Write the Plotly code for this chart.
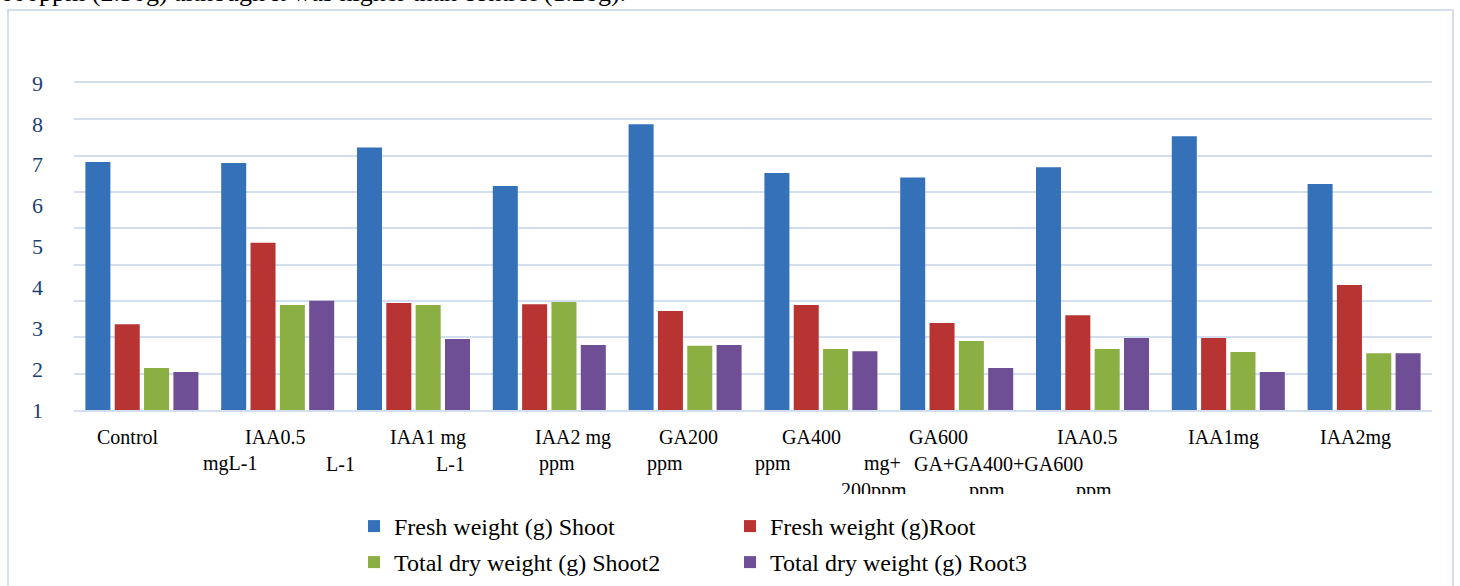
import plotly.graph_objects as go

# ---------------- data ----------------
categories = ["Control", "IAA0.5 mgL-1", "IAA1 mg L-1", "IAA2 mg L-1", "GA200 ppm",
              "GA400 ppm", "GA600 ppm", "IAA0.5 mg+ GA 200ppm", "IAA1mg+GA400 ppm",
              "IAA2mg+GA600 ppm"]
fresh_shoot = [7.07, 7.04, 7.42, 6.48, 7.99, 6.80, 6.69, 6.94, 7.70, 6.53]
fresh_root = [3.10, 5.09, 3.62, 3.59, 3.42, 3.57, 3.13, 3.32, 2.76, 4.06]
dry_shoot = [2.03, 3.57, 3.57, 3.64, 2.57, 2.49, 2.69, 2.49, 2.42, 2.39]
dry_root = [1.93, 3.67, 2.74, 2.59, 2.59, 2.44, 2.03, 2.76, 1.93, 2.39]
series_names = ["Fresh weight (g) Shoot", "Fresh weight (g)Root",
                "Total dry weight (g) Shoot2", "Total dry weight (g) Root3"]
y_tick_values = [1, 2, 3, 4, 5, 6, 7, 8, 9]
y_tick_labels = ["1", "2", "3", "4", "5", "6", "7", "8", "9"]

# category labels as they appear (wrapped text, three rows)
label_row1 = ["Control", "IAA0.5", "IAA1 mg", "IAA2 mg", "GA200", "GA400", "GA600",
              "IAA0.5", "IAA1mg", "IAA2mg"]
label_row2 = ["mgL-1", "L-1", "L-1", "ppm", "ppm", "ppm", "mg+", "GA+GA400+GA600"]
label_row3 = ["200ppm", "ppm", "ppm"]
header_text = "600ppm (2.30g) although it was higher than control (1.28g)."

# ---------------- style / layout ----------------
W, H = 1460, 586
L, R, T, B = 74, 28, 83, 176
PW, PH = W - L - R, H - T - B

def px(x):
    return (x - L) / PW

def py(y):
    return (H - B - y) / PH

row1_x = [128, 275, 428, 573, 688, 811, 938, 1087, 1223, 1355]
row2_x = [230, 340, 450, 557, 665, 773, 882, 998]
row3_x = [874, 987, 1094]

colors = ["#3471B9", "#B83433", "#8BAF42", "#6E4E95"]
legend_ids = ["legend", "legend", "legend2", "legend2"]
serif = "Liberation Serif, Times New Roman, serif"
grid_col = "#D3DEEF"

fig = go.Figure()
for name, vals, col, lg in zip(series_names, [fresh_shoot, fresh_root, dry_shoot, dry_root],
                               colors, legend_ids):
    fig.add_trace(go.Bar(x=categories, y=vals, name=name, legend=lg,
                         marker=dict(color=col, line=dict(width=0))))

annotations = []
for txt, x in zip(label_row1, row1_x):
    annotations.append(dict(text=txt, x=px(x), y=py(437), xref="paper", yref="paper",
                            xanchor="center", yanchor="middle", showarrow=False,
                            font=dict(family=serif, size=20, color="black")))
for txt, x in zip(label_row2, row2_x):
    annotations.append(dict(text=txt, x=px(x), y=py(464), xref="paper", yref="paper",
                            xanchor="center", yanchor="middle", showarrow=False,
                            font=dict(family=serif, size=20, color="black")))
for txt, x in zip(label_row3, row3_x):
    annotations.append(dict(text=txt, x=px(x), y=py(477), xref="paper", yref="paper",
                            xanchor="center", yanchor="top", showarrow=False,
                            height=15, valign="top",
                            font=dict(family=serif, size=20, color="black")))
annotations.append(dict(text=header_text, x=px(-2), y=py(9), xref="paper", yref="paper",
                        xanchor="left", yanchor="bottom", showarrow=False,
                        font=dict(family=serif, size=26, color="black")))

legend_style = dict(orientation="h", xref="paper", yref="container",
                    xanchor="left", yanchor="top",
                    font=dict(family=serif, size=24, color="black"),
                    entrywidth=331, entrywidthmode="pixels", itemwidth=30,
                    bgcolor="rgba(0,0,0,0)", traceorder="normal")

fig.update_layout(
    width=W, height=H,
    margin=dict(l=L, r=R, t=T, b=B),
    paper_bgcolor="white", plot_bgcolor="white",
    barmode="group", bargap=0.136, bargroupgap=0.147,
    font=dict(family=serif, color="black"),
    showlegend=True,
    legend=dict(x=px(354), y=(H - 504) / H, **legend_style),
    legend2=dict(x=px(354), y=(H - 540) / H, **legend_style),
    xaxis=dict(showticklabels=False, showgrid=False, ticks="", zeroline=False,
               showline=True, mirror=True, linecolor=grid_col, linewidth=2),
    yaxis=dict(range=[1, 9], tickmode="array", tickvals=y_tick_values,
               ticktext=y_tick_labels, showgrid=False, zeroline=False, showline=False,
               ticks="", ticklabelstandoff=30,
               tickfont=dict(family=serif, size=22, color="#1F3F73"),
               minor=dict(tick0=1, dtick=8 / 9, showgrid=True, gridcolor=grid_col,
                          gridwidth=2, ticks="")),
    annotations=annotations,
    shapes=[dict(type="rect", xref="paper", yref="paper",
                 x0=px(8), x1=px(1453), y0=py(10), y1=py(620),
                 line=dict(color=grid_col, width=2), fillcolor="rgba(0,0,0,0)",
                 layer="below")],
)

fig.write_html("out.html", config={"displayModeBar": False},
               post_script="document.body.style.margin='0';")
